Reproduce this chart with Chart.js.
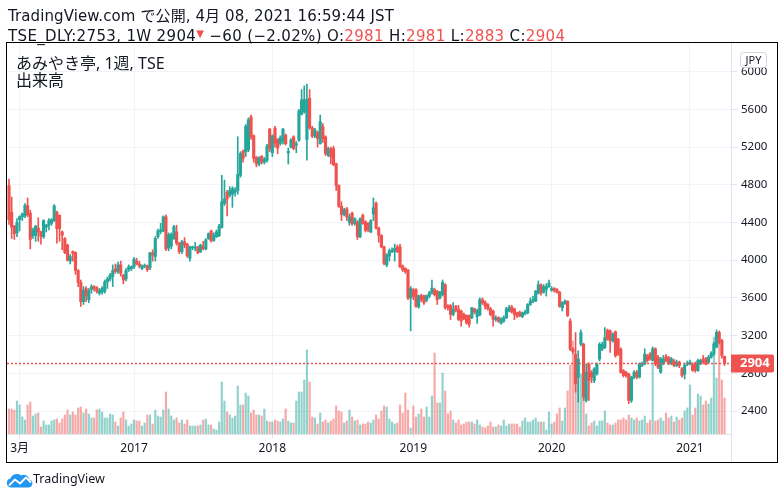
<!DOCTYPE html>
<html><head><meta charset="utf-8">
<script src="https://cdn.jsdelivr.net/npm/chart.js@4.4.1/dist/chart.umd.min.js"></script>
<style>
html,body{margin:0;padding:0;background:#fff;width:784px;height:499px;overflow:hidden;}
#wrap{position:relative;width:784px;height:499px;}
canvas{position:absolute;left:0;top:0;}
.t{position:absolute;white-space:nowrap;color:#131722;font-family:"Noto Sans","Noto Sans CJK JP",sans-serif;line-height:20px;}
.h{font-family:"DejaVu Sans","Noto Sans CJK JP",sans-serif;font-size:15px;}
.r{color:#ef5350;}
</style></head>
<body><div id="wrap">
<canvas id="c" width="784" height="499"></canvas>
<div class="t h" style="left:8px;top:6px;letter-spacing:0.1px;">TradingView.com で公開, 4月 08, 2021 16:59:44 JST</div>
<div class="t h" style="left:8px;top:24px;letter-spacing:0.35px;">TSE_DLY:2753, 1W 2904<span class="r" style="font-size:10px;vertical-align:4px">▼</span> −60 (−2.02%) O:<span class="r">2981</span> H:<span class="r">2981</span> L:<span class="r">2883</span> C:<span class="r">2904</span></div>
<div class="t" style="left:16px;top:53px;font-size:16px;">あみやき亭, 1週, TSE</div>
<div class="t" style="left:16px;top:70px;font-size:16px;">出来高</div>
<svg style="position:absolute;left:6px;top:473px" width="27" height="15" viewBox="0 0 27 15">
<path d="M5 14.5 A4.5 4.5 0 0 1 4.5 5.6 A6.5 6.5 0 0 1 15 2.5 A5.5 5.5 0 0 1 23.2 6.6 A4 4 0 0 1 22.5 14.5 Z" fill="#2196f3"/>
<polyline points="3,12.5 9,6.5 14,10.5 20,4.5 25,9.5" fill="none" stroke="#fff" stroke-width="1.8" stroke-linejoin="round"/>
</svg>
<div class="t" style="left:33px;top:469px;font-size:12.5px;">TradingView</div>
</div>
<script>
const weekStart = '2016-02-08';
const tickWeeks = [4,47,99,152,204,256];
const tickLabels = ['3月','2017','2018','2019','2020','2021'];
const priceTicks = [2400,2800,3200,3600,4000,4400,4800,5200,5600,6000];
const lastPrice = 2904;

const open = [
4790,4510,4360,4290,4430,4460,4470,4580,4500,4260,
4260,4340,4300,4250,4350,4370,4390,4420,4510,4475,
4300,4230,4160,3990,4090,4080,3890,3765,3560,3700,
3580,3690,3720,3710,3650,3660,3670,3770,3800,3830,
3910,3880,3950,3840,3800,3900,3910,3930,3990,3960,
3910,3935,3940,3920,4075,4040,4250,4305,4310,4460,
4130,4150,4230,4300,4180,4090,4195,4170,4020,4130,
4130,4140,4090,4145,4120,4230,4310,4210,4250,4260,
4350,4600,4720,4690,4700,4720,4740,4900,5155,5150,
5170,5520,5320,5090,5020,5100,5040,5060,5390,5140,
5400,5280,5240,5265,5326,5138,5202,5308,5220,5273,
5547,5575,5280,5717,5404,5316,5355,5237,5415,5308,
5113,5184,5184,5024,4793,4570,4485,4545,4400,4500,
4390,4405,4250,4475,4405,4394,4300,4490,4604,4341,
4264,4142,3950,4044,4090,4090,4142,4140,3939,3914,
3897,3600,3687,3687,3505,3624,3624,3575,3617,3652,
3687,3670,3600,3635,3740,3519,3519,3425,3512,3477,
3460,3425,3414,3414,3390,3484,3400,3420,3580,3555,
3530,3484,3460,3370,3390,3330,3354,3390,3460,3505,
3484,3442,3449,3400,3430,3442,3530,3565,3565,3650,
3740,3660,3690,3720,3680,3700,3690,3660,3495,3540,
3565,3354,3056,3003,2758,3109,3109,2512,2898,2810,
2723,2793,2951,3056,3074,3256,3250,3144,3240,3161,
3056,2828,2810,2793,2512,2760,2812,2760,2883,2900,
2989,3006,2936,3060,2971,2812,2900,2978,2964,2900,
2930,2883,2918,2848,2790,2895,2900,2893,2907,2830,
2900,2953,2953,2918,2971,3006,3077,3235,3147,2981
];
const high = [
4860,4670,4370,4440,4470,4500,4600,4660,4530,4340,
4370,4450,4310,4430,4380,4440,4440,4590,4520,4480,
4310,4240,4170,4060,4100,4090,3900,3790,3720,3720,
3700,3740,3730,3720,3700,3720,3790,3820,3860,3950,
3960,3980,3990,3850,3910,3950,3940,4030,4020,3990,
3950,3960,3950,4080,4110,4250,4330,4390,4470,4480,
4290,4290,4370,4370,4190,4210,4240,4180,4150,4150,
4190,4150,4170,4200,4230,4290,4320,4290,4320,4380,
4900,4850,4740,4780,4780,4770,5310,5150,5170,5440,
5510,5540,5330,5100,5100,5110,5090,5230,5400,5330,
5420,5290,5320,5400,5340,5190,5290,5320,5260,5600,
5810,5850,5867,5810,5420,5400,5370,5540,5450,5320,
5200,5200,5210,5030,4800,4620,4550,4560,4490,4510,
4450,4420,4450,4490,4420,4400,4430,4660,4620,4350,
4270,4150,4070,4120,4130,4170,4160,4170,3950,3920,
3900,3720,3700,3700,3630,3640,3630,3630,3670,3790,
3700,3680,3670,3790,3750,3530,3530,3550,3520,3520,
3470,3440,3420,3420,3500,3490,3480,3600,3600,3570,
3540,3500,3470,3410,3400,3390,3410,3500,3520,3520,
3490,3450,3460,3450,3470,3540,3600,3620,3680,3780,
3750,3740,3750,3790,3720,3710,3700,3670,3560,3580,
3570,3380,3070,3232,3039,3260,3120,2900,2910,2830,
2860,2910,3125,3130,3284,3270,3260,3230,3250,3170,
3070,2840,2820,2800,2770,2830,2830,2910,2920,3060,
3000,3020,3080,3070,2990,2970,2990,3000,2980,2970,
2950,2940,2930,2860,2900,2930,2940,2910,2920,2950,
2950,2990,2970,2990,3030,3130,3260,3250,3160,2981
];
const low = [
4380,4230,4220,4250,4310,4420,4450,4460,4120,4230,
4200,4200,4170,4230,4300,4320,4370,4410,4180,4200,
4110,4070,3990,3960,3990,3850,3720,3510,3530,3560,
3550,3650,3670,3650,3630,3640,3650,3700,3780,3720,
3860,3860,3830,3750,3780,3880,3890,3910,3950,3920,
3900,3920,3880,3900,3990,3990,4230,4280,4300,4100,
4100,4120,4220,4160,4070,4070,4130,4030,3990,4110,
4100,4070,4080,4110,4110,4220,4190,4200,4240,4250,
4340,4580,4470,4670,4560,4680,4700,4880,5040,5100,
5150,5280,5040,4990,5000,5020,5020,5040,5150,5100,
5200,5130,5220,5230,5220,5020,5190,5170,5140,5260,
5540,5560,5060,5390,5300,5300,5200,5230,5250,5110,
5100,5020,5000,4740,4560,4420,4470,4420,4370,4370,
4370,4220,4240,4380,4300,4300,4290,4420,4330,4190,
4130,3950,3930,3990,4080,3990,4080,3920,3880,3860,
3580,3250,3580,3500,3490,3560,3530,3560,3600,3640,
3620,3530,3590,3620,3480,3470,3370,3410,3450,3360,
3300,3370,3320,3290,3380,3430,3330,3410,3530,3480,
3470,3410,3300,3350,3340,3320,3340,3380,3450,3440,
3370,3390,3400,3390,3420,3430,3520,3550,3560,3640,
3630,3650,3620,3710,3670,3660,3650,3500,3460,3530,
3400,3040,3010,2600,2495,3090,2512,2495,2512,2700,
2700,2780,2930,3040,3060,3150,3021,3130,2970,2990,
2800,2760,2760,2478,2490,2740,2740,2750,2870,2890,
2920,2940,2930,2880,2850,2800,2890,2920,2890,2890,
2870,2870,2860,2760,2740,2880,2890,2820,2810,2820,
2890,2900,2890,2900,2960,2990,3070,3110,2960,2883
];
const close = [
4430,4350,4280,4400,4460,4490,4580,4480,4220,4320,
4360,4300,4250,4420,4370,4420,4430,4575,4335,4335,
4265,4080,4000,4040,4070,3890,3765,3560,3680,3620,
3680,3720,3700,3670,3680,3700,3770,3800,3840,3890,
3880,3950,3860,3790,3890,3930,3930,4010,3960,3940,
3940,3945,3900,4080,4055,4230,4310,4320,4460,4120,
4270,4275,4355,4180,4090,4195,4160,4050,4140,4135,
4140,4080,4160,4120,4215,4280,4205,4265,4300,4360,
4620,4650,4650,4740,4760,4740,4910,5130,5080,5420,
5490,5310,5080,5020,5080,5040,5070,5210,5180,5320,
5240,5190,5300,5390,5237,5155,5273,5184,5237,5582,
5700,5707,5707,5404,5316,5380,5290,5470,5290,5130,
5184,5095,5013,4793,4570,4485,4534,4457,4460,4387,
4440,4247,4440,4387,4317,4317,4420,4555,4341,4264,
4142,3967,4055,4100,4107,4125,4090,3930,3897,3880,
3600,3700,3617,3512,3624,3582,3547,3624,3652,3705,
3635,3582,3660,3764,3495,3495,3425,3477,3470,3372,
3355,3379,3337,3320,3495,3449,3460,3582,3547,3512,
3484,3425,3372,3390,3354,3372,3390,3484,3495,3449,
3425,3407,3407,3442,3449,3530,3565,3582,3670,3740,
3653,3720,3720,3758,3700,3680,3660,3512,3547,3565,
3414,3056,3028,2688,2951,3232,2547,2810,2723,2758,
2846,2898,3109,3109,3179,3161,3144,3214,2986,3003,
2810,2775,2775,2512,2760,2812,2760,2900,2900,3006,
2936,2953,3060,2900,2865,2953,2953,2936,2907,2953,
2883,2918,2883,2777,2883,2911,2918,2830,2830,2936,
2936,2918,2900,2971,3013,3112,3235,3130,2990,2904
];
const volume = [
25,25,24,33,29,17,14,29,32,18,
20,21,7,13,9,9,13,14,15,11,
15,19,24,19,22,19,26,27,21,25,
20,16,16,24,25,22,16,16,20,19,
12,8,16,22,14,8,10,14,13,13,
8,11,19,19,10,24,18,17,24,42,
25,18,14,16,11,14,10,14,8,8,
8,8,9,14,15,9,9,5,4,12,
52,33,22,19,16,18,48,29,29,41,
38,21,24,19,19,18,25,13,12,12,
14,13,12,15,25,13,11,11,33,42,
42,54,84,52,17,16,10,21,12,14,
11,13,15,28,23,22,11,13,24,17,
13,14,9,10,10,12,11,14,19,15,
23,28,27,15,12,10,11,29,21,41,
24,6,28,17,20,25,17,27,17,38,
81,31,31,61,43,20,23,14,11,14,
9,10,12,12,12,10,14,9,7,6,
8,12,7,7,9,8,14,8,10,10,
10,10,7,13,16,12,12,14,16,12,
12,12,4,22,10,12,20,26,13,26,
43,69,93,80,74,60,45,20,8,11,
13,8,13,13,23,11,9,9,11,14,
14,16,14,19,16,14,16,13,14,18,
11,14,71,13,14,16,13,21,16,18,
12,17,14,16,23,26,49,19,26,40,
38,29,33,30,36,97,56,90,54,36
];

const UP='#26a69a', DN='#ef5350', UPV='rgba(38,166,154,0.5)', DNV='rgba(239,83,80,0.5)';
const FONT = '"Noto Sans","Noto Sans CJK JP",sans-serif';
const up = close.map((c,i)=>c>=open[i]);
const bodies = close.map((c,i)=>({x:i,y:[open[i],c]}));
const wicks = close.map((c,i)=>({x:i,y:[Math.min(low[i],open[i],c),Math.max(high[i],open[i],c)]}));
const vols = volume.map((v,i)=>({x:i,y:v}));

const overlay = {
  id:'overlay',
  afterDraw(chart){
    const ctx = chart.ctx, a = chart.chartArea, ys = chart.scales.y;
    ctx.save();
    ctx.strokeStyle='#e0e3eb'; ctx.lineWidth=1;
    ctx.beginPath(); ctx.moveTo(Math.round(a.right)+0.5, a.bottom); ctx.lineTo(Math.round(a.right)+0.5, 462); ctx.stroke();
    const py = Math.round(ys.getPixelForValue(lastPrice))+0.5;
    ctx.strokeStyle=DN; ctx.lineWidth=1.3; ctx.setLineDash([2,2]);
    ctx.beginPath(); ctx.moveTo(a.left, py); ctx.lineTo(a.right, py); ctx.stroke();
    ctx.setLineDash([]); ctx.lineWidth=1;
    ctx.fillStyle=DN;
    ctx.beginPath();
    ctx.roundRect(a.right, py-9, 43, 18, [0,2,2,0]);
    ctx.fill();
    ctx.fillStyle='#fff'; ctx.font='bold 13px '+FONT; ctx.textBaseline='middle'; ctx.textAlign='left';
    ctx.fillText(String(lastPrice), a.right+9, py);
    ctx.beginPath(); ctx.roundRect(740.5, 52.5, 26, 15, 3);
    ctx.fillStyle='#fff'; ctx.fill(); ctx.strokeStyle='#d1d4dc'; ctx.stroke();
    ctx.fillStyle='#131722'; ctx.font='11px '+FONT; ctx.textAlign='center';
    ctx.fillText('JPY', 753.5, 60.5);
    ctx.strokeStyle='#000'; ctx.lineWidth=1;
    ctx.strokeRect(6.5, 42.5, 771, 420);
    ctx.restore();
  }
};

new Chart(document.getElementById('c'), {
  type:'bar',
  data:{datasets:[
    {label:'body', data:bodies, backgroundColor:up.map(u=>u?UP:DN), barThickness:2.5, minBarLength:1, grouped:false, order:1, yAxisID:'y'},
    {label:'wick', data:wicks, backgroundColor:up.map(u=>u?UP:DN), barThickness:1, grouped:false, order:2, yAxisID:'y'},
    {label:'vol', data:vols, backgroundColor:up.map(u=>u?UPV:DNV), barThickness:1.5, grouped:false, order:3, yAxisID:'v'}
  ]},
  options:{
    responsive:false, animation:false, devicePixelRatio:1,
    layout:{padding:{left:7,top:43,right:7,bottom:37}},
    plugins:{legend:{display:false}, tooltip:{enabled:false}},
    scales:{
      x:{type:'linear', min:-0.75, max:271.43, offset:false,
        grid:{offset:false, color:'#f0f3fa', tickLength:4, tickColor:'#e0e3eb'},
        border:{display:true, color:'#e0e3eb'},
        afterBuildTicks:(s)=>{ s.ticks = tickWeeks.map(v=>({value:v})); },
        ticks:{autoSkip:false, maxRotation:0, padding:3, color:'#131722', font:{size:12, family:FONT},
          callback:(v)=>tickLabels[tickWeeks.indexOf(v)]},
        afterFit:(s)=>{ s.height=28; }
      },
      y:{type:'linear', position:'right', min:2156, max:6304,
        grid:{color:'#f0f3fa', tickLength:6, tickColor:'#e0e3eb'},
        border:{display:true, color:'#e0e3eb'},
        afterBuildTicks:(s)=>{ s.ticks = priceTicks.map(v=>({value:v})); },
        ticks:{padding:4, color:'#131722', font:{size:11.5, family:FONT}, callback:(v)=>String(v)},
        afterFit:(s)=>{ s.width=46; }
      },
      v:{type:'linear', display:false, min:0, max:391}
    }
  },
  plugins:[overlay]
});
</script>
</body></html>
